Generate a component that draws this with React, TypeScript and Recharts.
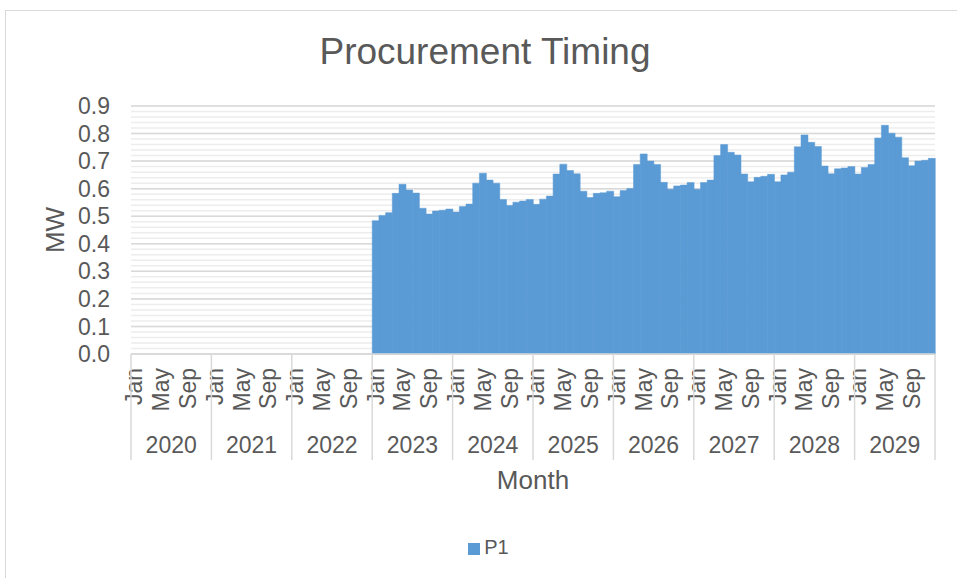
import React from 'react';
import { BarChart, Bar, XAxis, YAxis, CartesianGrid, Legend } from 'recharts';

const MONTH_NAMES = ['Jan', 'Feb', 'Mar', 'Apr', 'May', 'Jun', 'Jul', 'Aug', 'Sep', 'Oct', 'Nov', 'Dec'];
const SHOWN_MONTHS = ['Jan', 'May', 'Sep'];
const YEARS = [2020, 2021, 2022, 2023, 2024, 2025, 2026, 2027, 2028, 2029];
const Y_TICKS = [0, 0.1, 0.2, 0.3, 0.4, 0.5, 0.6, 0.7, 0.8, 0.9];

const P1_2023 = [0.484, 0.503, 0.513, 0.583, 0.616, 0.595, 0.584, 0.529, 0.508, 0.519, 0.522, 0.526];
const P1_2024 = [0.515, 0.535, 0.544, 0.620, 0.656, 0.631, 0.620, 0.561, 0.539, 0.551, 0.555, 0.561];
const P1_2025 = [0.543, 0.562, 0.573, 0.653, 0.689, 0.666, 0.654, 0.591, 0.568, 0.583, 0.585, 0.591];
const P1_2026 = [0.571, 0.593, 0.601, 0.688, 0.726, 0.700, 0.688, 0.623, 0.598, 0.610, 0.613, 0.622];
const P1_2027 = [0.598, 0.622, 0.631, 0.720, 0.760, 0.732, 0.722, 0.653, 0.625, 0.641, 0.645, 0.652];
const P1_2028 = [0.625, 0.650, 0.660, 0.752, 0.795, 0.768, 0.753, 0.682, 0.654, 0.672, 0.675, 0.680];
const P1_2029 = [0.653, 0.677, 0.688, 0.784, 0.830, 0.801, 0.787, 0.712, 0.683, 0.700, 0.703, 0.710];

const P1_BY_YEAR: Record<number, number[]> = {
  2023: P1_2023, 2024: P1_2024, 2025: P1_2025, 2026: P1_2026,
  2027: P1_2027, 2028: P1_2028, 2029: P1_2029,
};

const data = YEARS.flatMap((yr, yi) =>
  MONTH_NAMES.map((mn, mi) => ({
    idx: yi * 12 + mi,
    year: yr,
    month: mn,
    P1: P1_BY_YEAR[yr] ? P1_BY_YEAR[yr][mi] : null,
  }))
);

const W = 957;
const H = 578;
const M_LEFT = 0;
const Y_AXIS_W = 131;
const M_RIGHT = 22;
const M_TOP = 106;
const X_AXIS_H = 140;
const M_BOTTOM = 84;
const PLOT_W = W - M_LEFT - Y_AXIS_W - M_RIGHT;
const BAND = PLOT_W / data.length;

const FONT = '"Liberation Sans", Arial, sans-serif';
const TEXT = '#595959';
const GRID_MAJOR = '#d9d9d9';
const GRID_MINOR = '#ededed';
const BAR = '#5B9BD5';

const MINOR_VALUES: number[] = [];
for (let k = 0; k <= 45; k++) MINOR_VALUES.push(Math.round(k * 2) / 100);

const MonthTick = (props: any) => {
  const { x, y, payload } = props;
  const i = Number(payload.value);
  const row = data[i];
  if (!row) return null;
  const band = BAND;
  const els: React.ReactNode[] = [];
  if (SHOWN_MONTHS.includes(row.month)) {
    const tx = x + 8;
    const ty = y + 14;
    els.push(
      <text key="m" x={tx} y={ty} transform={`rotate(-90, ${tx}, ${ty})`} textAnchor="end"
        fontSize={23} fontFamily={FONT} fill={TEXT}>{row.month}</text>
    );
  }
  if (row.month === 'Jan') {
    const left = x - band / 2;
    els.push(<line key="l" x1={left} x2={left} y1={y} y2={y + 106} stroke={GRID_MAJOR} strokeWidth={1.5} />);
    els.push(
      <text key="y" x={left + band * 6} y={y + 99} textAnchor="middle" fontSize={23} fontFamily={FONT} fill={TEXT}>{row.year}</text>
    );
  }
  if (i === data.length - 1) {
    const right = x + band / 2;
    els.push(<line key="r" x1={right} x2={right} y1={y} y2={y + 106} stroke={GRID_MAJOR} strokeWidth={1.5} />);
  }
  return <g>{els}</g>;
};

const MonthLabel = (props: any) => {
  const vb = props.viewBox || {};
  return (
    <text x={vb.x + vb.width / 2} y={vb.y + 135} textAnchor="middle" fontSize={26} fontFamily={FONT} fill={TEXT}>Month</text>
  );
};

const MWLabel = (props: any) => {
  const vb = props.viewBox || {};
  const cx = vb.x + 55;
  const cy = vb.y + vb.height / 2;
  return (
    <text x={cx} y={cy} transform={`rotate(-90, ${cx}, ${cy})`} textAnchor="middle" dominantBaseline="central"
      fontSize={26} fontFamily={FONT} fill={TEXT}>MW</text>
  );
};

export default function App() {
  return (
    <div style={{ position: 'absolute', left: 0, top: 0, width: W, height: H, background: '#fff', fontFamily: FONT }}>
      <div style={{ position: 'absolute', left: 5, top: 10, width: W, height: H, borderLeft: '1.5px solid #d9d9d9', borderTop: '1.5px solid #d9d9d9', boxSizing: 'border-box' }} />
      <div style={{ position: 'absolute', left: 0, top: 32, width: 970, textAlign: 'center', fontSize: 37, lineHeight: '40px', color: TEXT, fontFamily: FONT }}>
        Procurement Timing
      </div>
      <div style={{ position: 'absolute', left: 0, top: 0 }}>
        <BarChart width={W} height={H} data={data} barCategoryGap={0} barGap={0}
          margin={{ top: M_TOP, right: M_RIGHT, left: M_LEFT, bottom: M_BOTTOM }}>
          <CartesianGrid vertical={false} horizontalValues={MINOR_VALUES} stroke={GRID_MINOR} strokeWidth={1.5} />
          <CartesianGrid vertical={false} stroke={GRID_MAJOR} strokeWidth={1.5} />
          <XAxis dataKey="idx" type="category" interval={0} height={X_AXIS_H} tickSize={0} tickMargin={0}
            tick={<MonthTick />} axisLine={{ stroke: GRID_MAJOR, strokeWidth: 1.5 }} tickLine={false}
            label={<MonthLabel />} />
          <YAxis domain={[0, 0.9]} ticks={Y_TICKS} width={Y_AXIS_W} axisLine={false} tickLine={false}
            tickSize={0} tickMargin={21} interval={0}
            tickFormatter={(v: number) => v.toFixed(1)}
            tick={{ fontSize: 23, fontFamily: FONT, fill: TEXT }}
            label={<MWLabel />} />
          <Legend verticalAlign="middle" layout="horizontal" align="center" iconType="square" iconSize={12}
            wrapperStyle={{ top: 536, left: 15, width: W, fontSize: 20, fontFamily: FONT }}
            formatter={(value: string) => <span style={{ color: TEXT }}>{value}</span>} />
          <Bar dataKey="P1" name="P1" fill={BAR} stroke={BAR} strokeWidth={0.5} isAnimationActive={false} />
        </BarChart>
      </div>
    </div>
  );
}
